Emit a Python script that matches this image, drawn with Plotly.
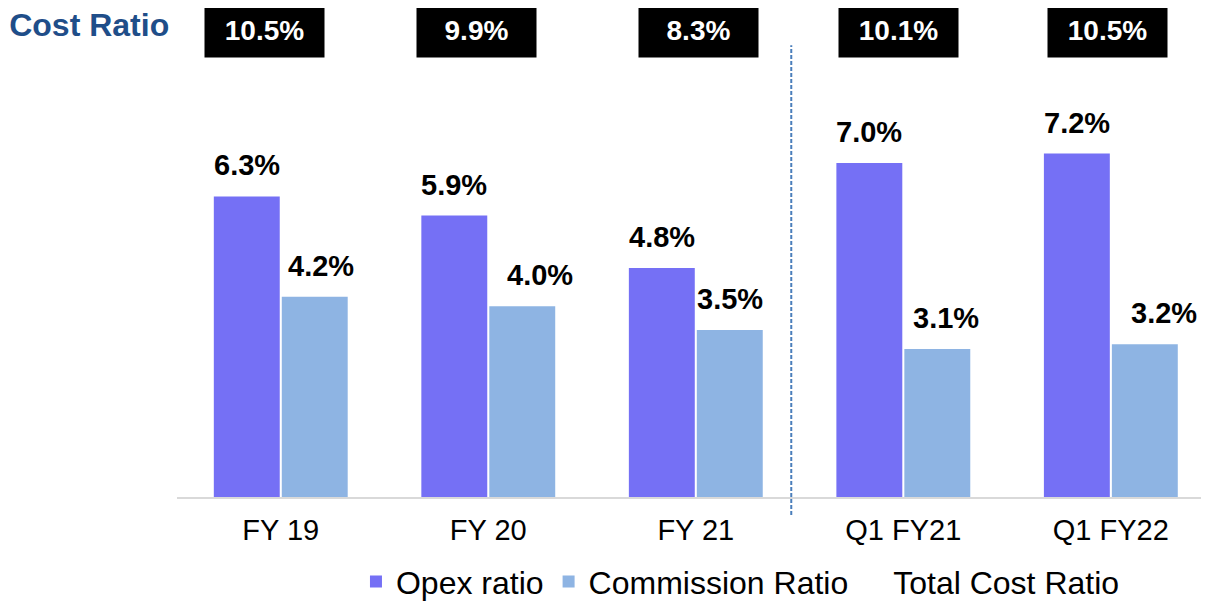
import plotly.graph_objects as go

categories = ["FY 19", "FY 20", "FY 21", "Q1 FY21", "Q1 FY22"]
opex_ratio = [6.3, 5.9, 4.8, 7.0, 7.2]
commission_ratio = [4.2, 4.0, 3.5, 3.1, 3.2]
total_cost_ratio = [10.5, 9.9, 8.3, 10.1, 10.5]

OPEX_COLOR = "#7570F5"
COMM_COLOR = "#8EB4E3"
FONT = "Liberation Sans, Arial, sans-serif"

# layout-only offsets (pixels)
box_xshift = [-16, -12, 3, -5, -3]
comm_label_xshift = [6, 18, 0, 9, 19]

fig = go.Figure()
fig.add_trace(go.Bar(x=categories, y=opex_ratio, name="Opex ratio",
                     marker=dict(color=OPEX_COLOR, line=dict(width=0))))
fig.add_trace(go.Bar(x=categories, y=commission_ratio, name="Commission Ratio",
                     marker=dict(color=COMM_COLOR, line=dict(width=0))))
fig.add_trace(go.Scatter(x=[None], y=[None], mode="markers", name="Total Cost Ratio",
                         marker=dict(color="rgba(0,0,0,0)", symbol="square", size=12)))

annotations = []
for i, c in enumerate(categories):
    annotations.append(dict(x=c, y=opex_ratio[i], xref="x", yref="y",
                            text=f"<b>{opex_ratio[i]:.1f}%</b>", showarrow=False,
                            xshift=-34, yshift=13, yanchor="bottom",
                            font=dict(family=FONT, size=29, color="black")))
    annotations.append(dict(x=c, y=commission_ratio[i], xref="x", yref="y",
                            text=f"<b>{commission_ratio[i]:.1f}%</b>", showarrow=False,
                            xshift=34 + comm_label_xshift[i], yshift=13, yanchor="bottom",
                            font=dict(family=FONT, size=29, color="black")))
    annotations.append(dict(x=c, y=1.069, xref="x", yref="paper",
                            text=f"<b>{total_cost_ratio[i]:.1f}%</b>", showarrow=False,
                            xshift=box_xshift[i], yanchor="middle",
                            width=117, height=52, bgcolor="black",
                            font=dict(family=FONT, size=28, color="white")))

fig.update_layout(
    width=1201, height=595,
    margin=dict(l=169, r=0, t=52, b=106, autoexpand=False),
    paper_bgcolor="white", plot_bgcolor="white",
    barmode="group", bargap=0.345, bargroupgap=0.03,
    title=dict(text="<b>Cost Ratio</b>", x=0.001, xanchor="left", xref="container",
               y=0.972, yanchor="middle", yref="container", pad=dict(l=0, r=0, t=0, b=0),
               font=dict(family=FONT, size=32, color="#1F4E89")),
    xaxis=dict(range=[-0.5, 4.473], showgrid=False, showline=True,
               linecolor="#D9D9D9", linewidth=2, ticks="", ticklabelstandoff=6,
               tickfont=dict(family=FONT, size=29, color="black")),
    yaxis=dict(range=[0, 9.16], visible=False, showgrid=False, zeroline=False),
    legend=dict(orientation="h", x=0.546, xanchor="center", y=-0.194, yanchor="middle",
                font=dict(family=FONT, size=32, color="black"), itemclick=False),
    annotations=annotations,
    shapes=[dict(type="line", xref="x", yref="paper", x0=2.46, x1=2.46, y0=-0.041, y1=1.034,
                 line=dict(color="#4A7EBB", width=2, dash="4px,2px"))],
    showlegend=True,
)

fig.write_html("out.html")
